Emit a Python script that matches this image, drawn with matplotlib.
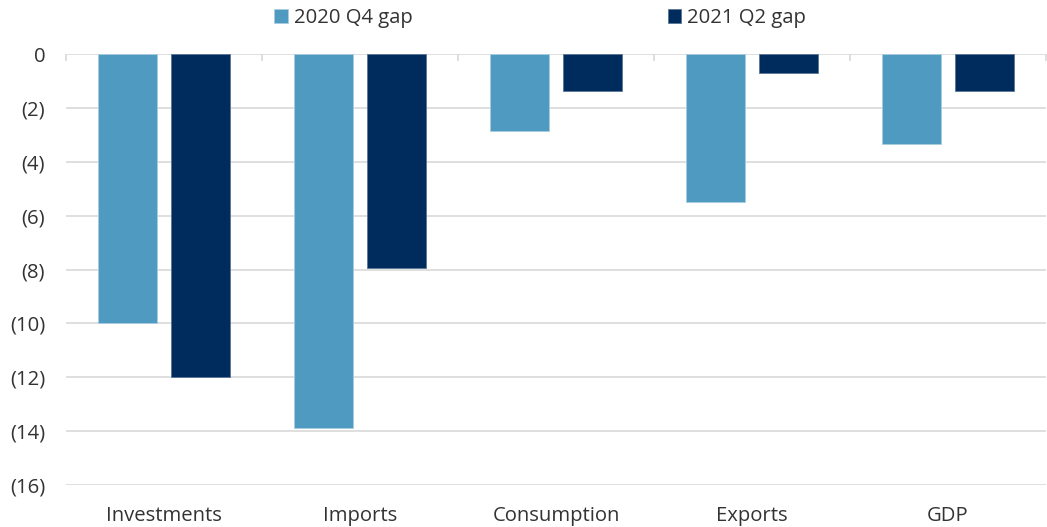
import matplotlib
matplotlib.use("Agg")
import matplotlib.pyplot as plt
from matplotlib.ticker import FuncFormatter
import numpy as np

categories = ["Investments", "Imports", "Consumption", "Exports", "GDP"]
gap_2020q4 = [-10.0, -13.9, -2.85, -5.5, -3.35]
gap_2021q2 = [-12.0, -7.95, -1.38, -0.72, -1.38]
series_names = ["2020 Q4 gap", "2021 Q2 gap"]
yticks = np.arange(0, -17, -2)

light = "#4f9ac1"
dark = "#002c5d"
grid_col = "#d9d9d9"
text_col = "#333333"

plt.rcParams["font.family"] = ["Open Sans", "DejaVu Sans"]
plt.rcParams["font.size"] = 14.6

fig = plt.figure(figsize=(10.47, 5.27), dpi=100)
ax = fig.add_axes([0.063, 0.0797, 0.936, 0.8178])

x = np.arange(len(categories))
w = 0.30
off = 0.185
b1 = ax.bar(x - off, gap_2020q4, w, color=light, edgecolor="#a9cce0", linewidth=0.6, zorder=3, label=series_names[0])
b2 = ax.bar(x + off, gap_2021q2, w, color=dark, edgecolor="#5a7596", linewidth=0.6, zorder=3, label=series_names[1])

ax.set_xlim(-0.5, len(categories) - 0.5)
ax.set_ylim(-16, 0)
ax.set_yticks(yticks)
ax.yaxis.set_major_formatter(FuncFormatter(lambda v, p: "0" if v == 0 else "(%d)" % abs(v)))
ax.yaxis.grid(True, color=grid_col, linewidth=1.2, zorder=0)
ax.tick_params(axis="y", length=0, pad=15, colors=text_col, labelsize=14.6)

ax.set_xticks(x)
ax.set_xticklabels(categories)
ax.tick_params(axis="x", length=0, pad=15, colors=text_col, labelsize=14.6)

# small category separators hanging from the zero line
bounds = np.arange(len(categories) + 1) - 0.5
ax.vlines(bounds, -0.25, 0, colors=grid_col, linewidth=1.2, zorder=2, clip_on=False)

for s in ax.spines.values():
    s.set_visible(False)

fig.legend(handles=[b1, b2], labels=series_names, loc="center", bbox_to_anchor=(0.516, 0.966),
           ncol=2, frameon=False, handlelength=0.65, handleheight=0.65, handletextpad=0.3,
           columnspacing=12.6, labelcolor=text_col, fontsize=14.6)

fig.savefig("out.png", dpi=100)
